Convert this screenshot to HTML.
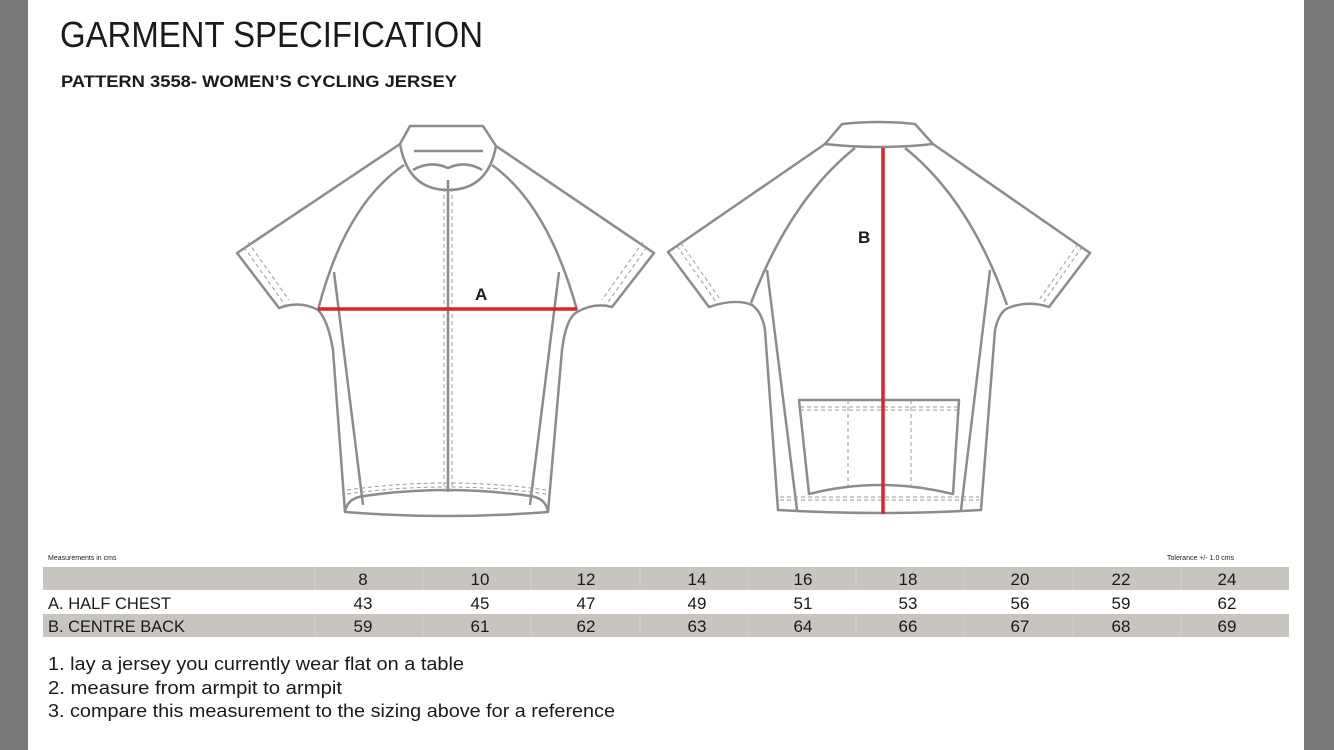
<!DOCTYPE html>
<html><head><meta charset="utf-8"><style>
html,body{margin:0;padding:0;background:#fff}
svg{display:block}
text{font-family:"Liberation Sans",sans-serif;fill:#1a1a1a}
</style></head><body>
<svg width="1334" height="750" viewBox="0 0 1334 750" xmlns="http://www.w3.org/2000/svg">
<rect x="0" y="0" width="1334" height="750" fill="#fff"/>
<rect x="0" y="0" width="28" height="750" fill="#77787a"/>
<rect x="1304" y="0" width="30" height="750" fill="#77787a"/>

<text x="60" y="47" font-size="36" textLength="423" lengthAdjust="spacingAndGlyphs">GARMENT SPECIFICATION</text>
<text x="61" y="87" font-size="17" font-weight="bold" textLength="396" lengthAdjust="spacingAndGlyphs">PATTERN 3558- WOMEN’S CYCLING JERSEY</text>

<!-- FRONT -->
<g fill="none" stroke="#8c8c8c" stroke-width="2.5" stroke-linejoin="round">
<path d="M400,144 L237,253 L279,308 Q300,300 318,310 Q328,320 333,350 L345,512 Q447,520 548,512 L562,350 Q566,318 577,312 Q595,302 612,307 L654,253 L496,146"/>
<path d="M410,126 L483,126 L496,146 Q488,190 448,190 Q408,190 400,144 Z"/>
<path d="M414,151 L483,151"/>
<path d="M413,170 Q430,160 448,168 Q466,160 482,170"/>
<path d="M404,165 Q345,205 318,310"/>
<path d="M492,165 Q548,205 577,310"/>
<path d="M334,272 L363,505"/>
<path d="M559,272 L530,505"/>
<path d="M448,180 L448,492"/>
<path d="M345,512 Q347,498 364,496 Q447,484 530,496 Q546,498 548,512"/>
</g>
<g fill="none" stroke="#9a9a9a" stroke-width="1" stroke-dasharray="4,3">
<path d="M444,188 L444,492 M452,188 L452,492"/>
<path d="M347,494 Q447,480 546,494 M347,490 Q447,476 546,490"/>
<path d="M244,247 L285,305 M248,242 L289,300"/>
<path d="M647,247 L606,305 M643,242 L602,300"/>
</g>
<path d="M318,309 L577,309" stroke="#d9262b" stroke-width="3.5"/>
<text x="475" y="300" font-size="17" font-weight="bold">A</text>

<!-- BACK -->
<g fill="none" stroke="#8c8c8c" stroke-width="2.5" stroke-linejoin="round">
<path d="M825,144 L668,252 L709,307 Q735,298 752,305 Q762,312 765,330 L778,510 Q880,516 981,510 L995,330 Q999,312 1008,308 Q1028,300 1049,307 L1090,253 L933,144"/>
<path d="M842,124 Q878,120 915,124 L933,144 Q879,150 825,144 Z"/>
<path d="M855,148 Q790,200 751,303"/>
<path d="M905,148 Q970,200 1007,305"/>
<path d="M767,270 L797,510"/>
<path d="M990,270 L961,510"/>
<path d="M799,400 L959,400 L953,494 Q880,476 809,494 Z"/>
</g>
<g fill="none" stroke="#9a9a9a" stroke-width="1" stroke-dasharray="4,3">
<path d="M800,407 L958,407 M800,410 L958,410"/>
<path d="M848,400 L848,487 M911,400 L911,487"/>
<path d="M780,497 L979,497 M780,500 L979,500"/>
<path d="M677,246 L716,302 M681,243 L720,299"/>
<path d="M1082,247 L1043,303 M1078,244 L1039,300"/>
</g>
<path d="M883,148 L883,514" stroke="#d9262b" stroke-width="3.5"/>
<text x="858" y="243" font-size="17" font-weight="bold">B</text>

<!-- TABLE -->
<text x="48" y="560" font-size="7" font-family="Liberation Serif" fill="#333">Measurements in cms</text>
<text x="1167" y="560" font-size="7" font-family="Liberation Serif" fill="#333">Tolerance +/- 1.0 cms</text>
<rect x="43" y="567" width="1246" height="23" fill="#c8c5c0"/>
<rect x="43" y="614" width="1246" height="23" fill="#c8c5c0"/>
<g stroke="#d4d1cc" stroke-width="1">
<path d="M315,567 V590 M423,567 V590 M531,567 V590 M640,567 V590 M748,567 V590 M856,567 V590 M964,567 V590 M1073,567 V590 M1181,567 V590"/>
<path d="M315,614 V637 M423,614 V637 M531,614 V637 M640,614 V637 M748,614 V637 M856,614 V637 M964,614 V637 M1073,614 V637 M1181,614 V637"/>
</g>
<g font-size="17" text-anchor="middle">
<text x="363" y="585">8</text><text x="480" y="585">10</text><text x="586" y="585">12</text><text x="697" y="585">14</text><text x="803" y="585">16</text><text x="908" y="585">18</text><text x="1020" y="585">20</text><text x="1121" y="585">22</text><text x="1227" y="585">24</text>
<text x="363" y="609">43</text><text x="480" y="609">45</text><text x="586" y="609">47</text><text x="697" y="609">49</text><text x="803" y="609">51</text><text x="908" y="609">53</text><text x="1020" y="609">56</text><text x="1121" y="609">59</text><text x="1227" y="609">62</text>
<text x="363" y="632">59</text><text x="480" y="632">61</text><text x="586" y="632">62</text><text x="697" y="632">63</text><text x="803" y="632">64</text><text x="908" y="632">66</text><text x="1020" y="632">67</text><text x="1121" y="632">68</text><text x="1227" y="632">69</text>
</g>
<text x="48" y="609" font-size="17" textLength="123" lengthAdjust="spacingAndGlyphs">A. HALF CHEST</text>
<text x="48" y="632" font-size="17" textLength="137" lengthAdjust="spacingAndGlyphs">B. CENTRE BACK</text>

<text x="48" y="670" font-size="18" textLength="416" lengthAdjust="spacingAndGlyphs">1. lay a jersey you currently wear flat on a table</text>
<text x="48" y="694" font-size="18" textLength="294" lengthAdjust="spacingAndGlyphs">2. measure from armpit to armpit</text>
<text x="48" y="717" font-size="18" textLength="567" lengthAdjust="spacingAndGlyphs">3. compare this measurement to the sizing above for a reference</text>
</svg>
</body></html>
